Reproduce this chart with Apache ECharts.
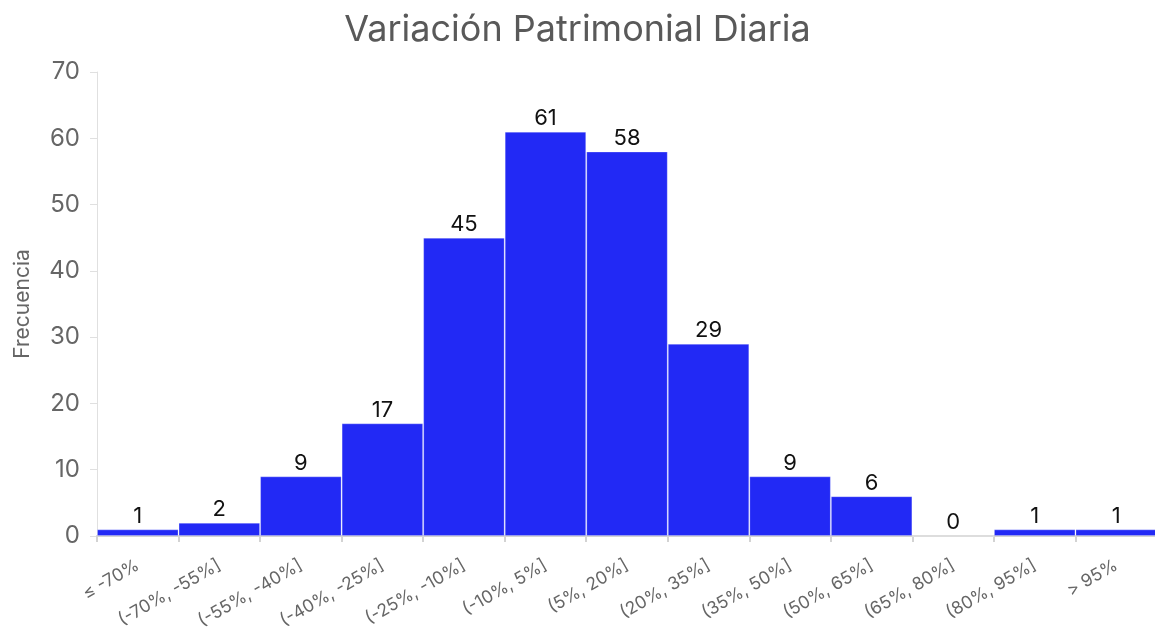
<!DOCTYPE html>
<html>
<head>
<meta charset="utf-8">
<script src="https://cdn.jsdelivr.net/npm/echarts@6/dist/echarts.min.js"></script>
<style>html,body{margin:0;padding:0;background:#fff}#c{width:1155px;height:629px}</style>
</head>
<body>
<div id="c"></div>
<script>
const categories = ["≤ -70%", "(-70%, -55%]", "(-55%, -40%]", "(-40%, -25%]", "(-25%, -10%]", "(-10%, 5%]", "(5%, 20%]", "(20%, 35%]", "(35%, 50%]", "(50%, 65%]", "(65%, 80%]", "(80%, 95%]", "> 95%"];
const frequencies = [1, 2, 9, 17, 45, 61, 58, 29, 9, 6, 0, 1, 1];
const titleText = "Variación Patrimonial Diaria";
const yAxisName = "Frecuencia";

const chart = echarts.init(document.getElementById('c'));
chart.setOption({
  animation: false,
  textStyle: { fontFamily: 'Inter' },
  title: {
    text: titleText, left: 'center', top: 7,
    textStyle: { fontFamily: 'Inter', fontSize: 36, fontWeight: 'normal', color: '#595959' }
  },
  grid: { left: 97, right: -2, top: 72, bottom: 93, containLabel: false, outerBoundsMode: 'none' },
  xAxis: {
    type: 'category', data: categories,
    axisLine: { lineStyle: { color: '#d3d3d3', width: 2 } },
    axisTick: { show: true, length: 6, lineStyle: { color: '#d3d3d3', width: 2 } },
    axisLabel: { rotate: 30, interval: 0, fontSize: 17.5, color: '#666', margin: 28, fontFamily: 'Inter' }
  },
  yAxis: {
    type: 'value', min: 0, max: 70, interval: 10,
    name: yAxisName, nameLocation: 'middle', nameGap: 64,
    nameTextStyle: { fontSize: 21, color: '#666', fontFamily: 'Inter' },
    axisLine: { show: true, lineStyle: { color: '#e0e0e0', width: 1 } },
    axisTick: { show: true, length: 7, lineStyle: { color: '#e0e0e0' } },
    axisLabel: { fontSize: 24, color: '#666', margin: 17, fontFamily: 'Inter' },
    splitLine: { show: false }
  },
  series: [{
    type: 'bar', data: frequencies, barWidth: '100%', barCategoryGap: '0%',
    itemStyle: { color: '#2229F5', borderColor: 'rgba(255,255,255,0.25)', borderWidth: 1 },
    label: { show: true, position: 'top', distance: 2, fontSize: 22, color: '#111', fontFamily: 'Inter' }
  }]
});
</script>
</body>
</html>
